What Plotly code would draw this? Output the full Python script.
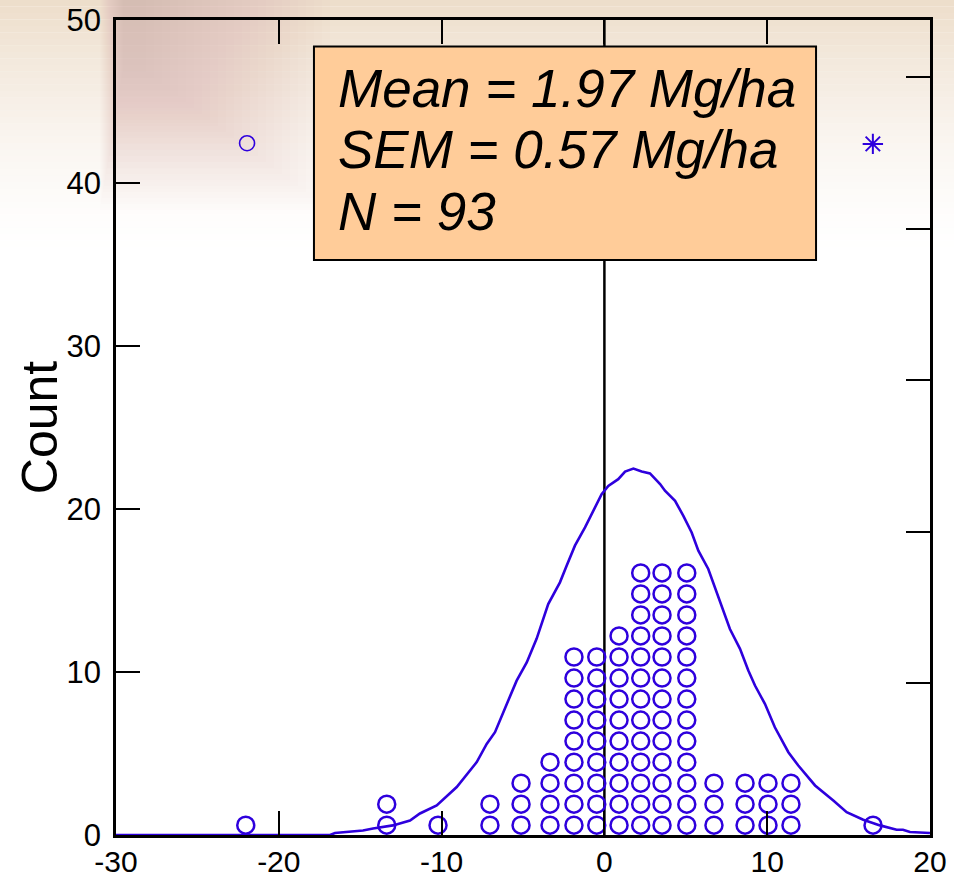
import plotly.graph_objects as go

# ---- data ----
dot_x = [-22.03, -13.37, -10.22, -7.03, -5.12, -3.34, -1.87, -0.47, 0.90,
         2.23, 3.54, 5.06, 6.73, 8.64, 10.05, 11.46, 16.50]
dot_counts = [1, 2, 1, 2, 3, 4, 9, 9, 10, 13, 13, 13, 3, 3, 3, 3, 1]

curve_x = [-30.0, -16.85, -16.55, -14.83, -14.21, -12.99, -11.94, -11.33, -10.30,
           -9.07, -7.84, -7.23, -6.72, -6.00, -5.39, -4.77, -4.16, -3.45, -2.73,
           -2.32, -1.81, -1.19, -0.58, -0.17, 0.24, 0.85, 1.27, 1.78, 2.29, 2.80,
           3.42, 3.72, 4.34, 4.85, 5.36, 5.77, 6.38, 7.10, 7.71, 8.33, 8.84, 9.25,
           9.86, 10.47, 11.30, 11.91, 12.63, 12.94, 14.06, 14.88, 15.90, 16.93,
           17.95, 18.34, 18.77, 20.0]
curve_y = [0.0, 0.0, 0.12, 0.28, 0.40, 0.59, 0.89, 1.32, 1.81,
           2.94, 4.47, 5.59, 6.31, 8.05, 9.47, 10.59, 12.05, 14.17, 15.50,
           16.52, 17.75, 18.87, 20.09, 20.91, 21.42, 21.83, 22.30, 22.48, 22.30, 22.18,
           21.53, 21.12, 20.50, 19.58, 18.56, 17.44, 16.32, 14.38, 12.64, 11.42, 10.09, 9.17,
           8.05, 6.61, 5.08, 4.26, 3.45, 3.04, 2.12, 1.40, 0.94, 0.59,
           0.32, 0.32, 0.18, 0.12]

extreme_min = (-21.95, 42.44)
extreme_max = (16.49, 42.40)

stats_lines = ["Mean = 1.97 Mg/ha", "SEM = 0.57 Mg/ha", "N = 93"]
N_TOTAL = 93

x_ticks = [-30, -20, -10, 0, 10, 20]
x_tick_text = ["-30", "-20", "-10", "0", "10", "20"]
y_ticks = [0, 10, 20, 30, 40, 50]
prop_ticks = [0.1, 0.2, 0.3, 0.4, 0.5]

# ---- stack dots ----
DOT_BASE, DOT_STEP = 0.6, 1.29
px_, py_ = [], []
for xv, c in zip(dot_x, dot_counts):
    for k in range(c):
        px_.append(xv)
        py_.append(DOT_BASE + DOT_STEP * k)

BLUE = "#2E00DD"
FONT = "Arial, Liberation Sans, sans-serif"

fig = go.Figure()
fig.add_trace(go.Scatter(x=curve_x, y=curve_y, mode="lines",
                         line=dict(color=BLUE, width=2.6), hoverinfo="skip"))
fig.add_trace(go.Scatter(x=px_, y=py_, mode="markers",
                         marker=dict(symbol="circle-open", size=17, color=BLUE,
                                     line=dict(width=2.5, color=BLUE))))
fig.add_trace(go.Scatter(x=[extreme_min[0]], y=[extreme_min[1]], mode="markers",
                         marker=dict(symbol="circle-open", size=15, color=BLUE,
                                     line=dict(width=1.6, color=BLUE))))
fig.add_trace(go.Scatter(x=[extreme_max[0]], y=[extreme_max[1]], mode="markers",
                         marker=dict(symbol="asterisk-open", size=17, color=BLUE,
                                     line=dict(width=2, color=BLUE))))
fig.add_trace(go.Scatter(x=[], y=[], yaxis="y2", showlegend=False))

L, R, T, B = 116, 930, 20, 834.6
W_PLOT = R - L
H_PLOT = B - T
def pap(py):
    return (B - py) / H_PLOT
def papx(px):
    return (px - L) / W_PLOT

shapes = []
# faded photo-like background band at top
n = 40
for i in range(n):
    op = 0.85 * (1 - i / n) ** 1.6
    shapes.append(dict(type="rect", xref="paper", yref="paper",
                       x0=-0.2, x1=1.2, y0=pap((i + 1) * 6.5), y1=pap(i * 6.5),
                       fillcolor=f"rgba(234,216,194,{op:.3f})", line=dict(width=0),
                       layer="below"))
# soft pinkish glow top-left
m = 24
for i in range(m):
    shapes.append(dict(type="rect", xref="paper", yref="paper",
                       x0=papx(100 + 1 * i), x1=papx(330 - 8 * i),
                       y0=pap(210 - 6 * i), y1=pap(0),
                       fillcolor="rgba(226,170,165,0.018)", line=dict(width=0),
                       layer="below"))
# zero line
shapes.append(dict(type="line", xref="x", yref="y", x0=0, x1=0, y0=0, y1=50,
                   line=dict(color="black", width=2.5), layer="below"))
# stats box
shapes.append(dict(type="rect", xref="x", yref="y", x0=-17.84, x1=13.0,
                   y0=35.27, y1=48.38, fillcolor="#FFCC99",
                   line=dict(color="black", width=2), layer="above"))
fig.update_layout(shapes=shapes)

ann_y = [45.8, 42.05, 38.25]
for txt, yv in zip(stats_lines, ann_y):
    fig.add_annotation(x=-16.49, y=yv, xref="x", yref="y", text=f"<i>{txt}</i>",
                       showarrow=False, xanchor="left", yanchor="middle",
                       font=dict(family=FONT, size=53, color="black"))

# y-axis title
fig.add_annotation(x=papx(40), y=pap(427), xref="paper", yref="paper", text="Count",
                   textangle=-90, showarrow=False, xanchor="center", yanchor="middle",
                   font=dict(family=FONT, size=50, color="black"))

fig.update_layout(
    width=954, height=884, autosize=False,
    margin=dict(l=L, r=954 - R, t=T, b=884 - B, autoexpand=False),
    paper_bgcolor="white", plot_bgcolor="rgba(0,0,0,0)",
    showlegend=False,
    font=dict(family=FONT, color="black"),
    xaxis=dict(range=[-30, 20], tickvals=x_ticks, ticktext=x_tick_text,
               ticks="inside", ticklen=24, tickwidth=2, tickcolor="black",
               showline=True, linewidth=2.5, linecolor="black", mirror="ticks",
               showgrid=False, zeroline=False, automargin=False,
               tickfont=dict(size=30, family=FONT), ticklabelstandoff=-2),
    yaxis=dict(range=[0, 50], tickvals=y_ticks,
               ticks="inside", ticklen=24, tickwidth=2, tickcolor="black",
               showline=True, linewidth=2.5, linecolor="black", mirror=True,
               showgrid=False, zeroline=False, automargin=False,
               tickfont=dict(size=31, family=FONT), ticklabelstandoff=6),
    yaxis2=dict(range=[0, 50 / N_TOTAL], overlaying="y", side="right",
                tickvals=prop_ticks, showticklabels=False, automargin=False,
                ticks="inside", ticklen=24, tickwidth=2, tickcolor="black",
                showline=False, showgrid=False, zeroline=False),
)

fig.write_html("out.html")
